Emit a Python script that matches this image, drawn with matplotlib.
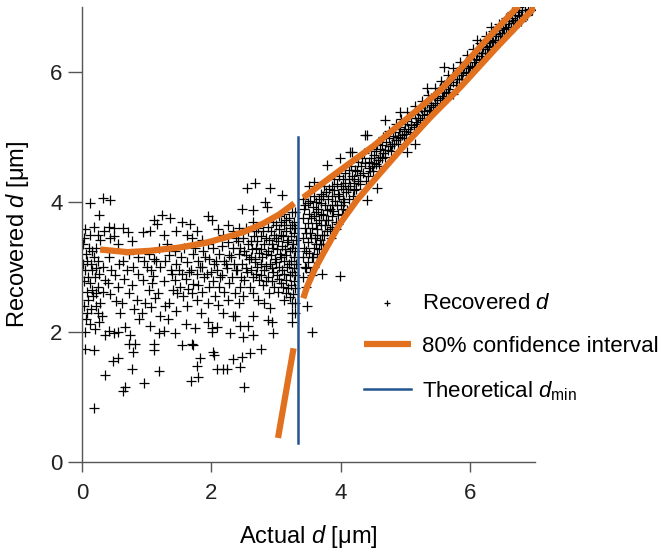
import matplotlib
matplotlib.use("Agg")
import matplotlib.pyplot as plt

plt.rcParams['font.family'] = ['Liberation Sans', 'DejaVu Sans']
plt.rcParams['mathtext.fontset'] = 'custom'
plt.rcParams['mathtext.rm'] = 'Liberation Sans'
plt.rcParams['mathtext.it'] = 'Liberation Sans:italic'

# recovered d below d_min (actual d, recovered d)
pts_left = [
    (0.05, 3.58), (0.03, 3.45), (0.06, 3.2), (0.04, 2.95), (0.07, 2.62), (0.03, 2.4), (0.06, 2.2), (0.04, 2.0), (0.05, 1.74),
    (0.02, 3.35), (0.02, 3.05), (0.03, 2.78), (0.08, 3.1), (0.09, 2.85), (0.08, 2.3),
    (0.12, 3.98), (0.13, 3.5), (0.11, 3.3), (0.14, 3.05), (0.12, 2.75), (0.1, 2.5), (0.14, 2.35), (0.12, 2.12),
    (0.15, 3.25), (0.16, 2.95), (0.15, 2.65),
    (0.19, 3.62), (0.18, 3.15), (0.2, 2.85), (0.17, 2.55), (0.2, 2.05), (0.19, 1.72), (0.18, 0.83),
    (0.22, 3.3), (0.22, 2.98), (0.21, 2.6), (0.22, 2.4),
    (0.26, 3.8), (0.24, 3.5), (0.28, 3.42), (0.25, 3.1), (0.27, 2.9), (0.24, 2.7), (0.28, 2.45), (0.25, 2.3), (0.26, 2.15),
    (0.33, 4.06), (0.34, 3.55), (0.32, 3.0), (0.35, 2.8), (0.33, 2.62), (0.31, 2.25), (0.35, 1.95),
    (0.43, 4.03), (0.41, 3.62), (0.44, 3.45), (0.42, 3.15), (0.45, 2.95), (0.4, 2.75), (0.44, 2.58), (0.42, 2.02), (0.36, 1.34),
    (0.5, 3.48), (0.49, 3.6), (0.51, 2.88), (0.52, 2.48), (0.49, 1.98), (0.48, 1.56),
    (0.56, 3.35), (0.57, 3.05), (0.55, 2.7), (0.58, 2.3), (0.56, 2.0), (0.56, 1.6),
    (0.64, 3.6), (0.63, 3.1), (0.65, 2.82), (0.62, 2.45), (0.66, 2.08), (0.64, 1.1), (0.66, 1.15),
    (0.71, 3.54), (0.73, 3.2), (0.7, 2.95), (0.72, 2.6), (0.74, 1.95), (0.72, 1.82),
    (0.78, 3.4), (0.79, 3.0), (0.77, 2.72), (0.8, 2.35), (0.79, 1.7), (0.77, 1.43), (0.82, 1.82),
    (0.86, 3.15), (0.87, 2.9), (0.85, 2.5), (0.88, 2.2),
    (0.94, 3.54), (0.96, 3.1), (0.95, 2.8), (0.97, 2.45), (0.93, 2.3), (0.96, 1.22),
    (1.0, 3.0), (1.08, 2.75),
    (1.05, 3.55), (1.03, 3.2), (1.06, 2.95), (1.04, 2.65), (1.07, 2.38), (1.05, 2.1),
    (1.11, 3.72), (1.12, 3.12), (1.1, 2.86), (1.13, 2.52), (1.11, 1.82), (1.11, 1.72),
    (1.16, 3.67), (1.19, 3.3), (1.2, 3.0), (1.18, 2.6), (1.21, 2.25), (1.19, 1.98), (1.19, 1.4), (1.15, 3.1),
    (1.23, 3.8), (1.27, 3.5), (1.28, 3.1), (1.26, 2.78), (1.29, 2.4), (1.27, 2.02),
    (1.36, 3.75), (1.34, 3.18), (1.37, 2.95), (1.35, 2.45), (1.33, 2.2), (1.31, 3.35), (1.39, 2.9), (1.41, 2.65),
    (1.45, 3.55), (1.44, 3.25), (1.46, 3.05), (1.43, 2.8), (1.47, 2.6), (1.45, 2.32), (1.44, 1.98), (1.5, 2.95),
    (1.54, 3.7), (1.53, 3.15), (1.55, 2.9), (1.52, 2.7), (1.56, 2.55), (1.54, 1.8), (1.58, 3.3),
    (1.62, 3.5), (1.63, 3.08), (1.61, 2.82), (1.64, 2.66), (1.62, 2.4), (1.6, 2.12), (1.66, 2.92),
    (1.67, 3.67), (1.7, 3.45), (1.71, 3.2), (1.69, 2.95), (1.72, 2.74), (1.7, 2.6), (1.7, 1.82), (1.69, 1.24), (1.72, 1.8),
    (1.78, 3.55), (1.79, 3.1), (1.77, 2.9), (1.8, 2.72), (1.78, 2.5), (1.75, 2.06), (1.78, 1.47), (1.8, 1.31), (1.74, 3.3),
    (1.86, 3.42), (1.87, 3.25), (1.85, 3.0), (1.88, 2.85), (1.86, 2.62), (1.84, 2.3), (1.83, 1.6), (1.82, 3.0),
    (1.95, 3.78), (1.94, 3.35), (1.96, 3.12), (1.93, 2.9), (1.97, 2.7), (1.95, 2.45), (1.94, 2.15), (1.9, 3.15), (1.99, 2.92),
    (2.01, 3.72), (2.03, 3.3), (2.04, 3.05), (2.02, 2.78), (2.05, 2.55), (2.01, 2.0), (2.01, 2.06), (2.03, 1.7), (2.04, 1.65),
    (2.1, 3.58), (2.11, 3.2), (2.09, 2.95), (2.12, 2.7), (2.1, 2.42), (2.08, 2.08), (2.08, 1.43), (2.07, 3.1), (2.14, 2.85),
    (2.18, 3.5), (2.17, 3.32), (2.19, 3.1), (2.16, 2.88), (2.2, 2.62), (2.18, 2.3), (2.18, 1.43), (2.22, 3.05),
    (2.26, 3.65), (2.25, 3.38), (2.27, 3.18), (2.24, 2.98), (2.28, 2.75), (2.26, 2.5), (2.24, 1.43), (2.3, 3.15),
    (2.34, 3.55), (2.33, 3.3), (2.35, 3.05), (2.32, 2.85), (2.36, 2.6), (2.34, 2.25), (2.37, 2.25), (2.29, 1.98), (2.34, 1.58),
    (2.38, 2.95), (2.38, 3.45),
    (2.42, 3.6), (2.41, 3.4), (2.43, 3.2), (2.4, 2.95), (2.44, 2.7), (2.42, 2.45), (2.45, 2.1), (2.45, 1.46), (2.44, 3.3), (2.46, 2.85),
    (2.47, 3.9), (2.49, 3.45), (2.5, 3.25), (2.48, 3.05), (2.51, 2.8), (2.49, 2.55), (2.49, 1.93), (2.47, 1.62), (2.51, 1.15),
    (2.53, 3.6), (2.54, 3.18), (2.53, 2.98),
    (2.55, 4.21), (2.57, 3.55), (2.56, 3.35), (2.58, 3.12), (2.55, 2.92), (2.59, 2.7), (2.57, 2.1),
    (2.61, 3.4), (2.61, 3.15), (2.62, 2.95),
    (2.65, 3.88), (2.64, 3.7), (2.66, 3.48), (2.63, 3.28), (2.67, 3.08), (2.65, 2.85), (2.64, 2.6), (2.65, 2.25), (2.65, 1.95), (2.6, 1.68),
    (2.69, 3.55), (2.69, 3.3), (2.68, 3.12), (2.69, 2.9),
    (2.68, 4.29), (2.72, 3.6), (2.71, 3.4), (2.73, 3.22), (2.7, 3.0), (2.74, 2.8), (2.72, 2.5), (2.76, 1.74),
    (2.76, 3.48), (2.77, 3.28), (2.76, 3.05), (2.77, 2.88),
    (2.83, 4.0), (2.86, 3.93), (2.8, 3.55), (2.81, 3.35), (2.79, 3.15), (2.82, 2.95), (2.8, 2.72), (2.81, 2.45),
    (2.84, 3.45), (2.85, 3.2), (2.84, 3.02), (2.85, 2.78),
    (2.91, 4.21), (2.88, 3.62), (2.89, 3.42), (2.87, 3.25), (2.9, 3.05), (2.88, 2.85), (2.89, 2.6), (2.88, 2.18), (2.9, 2.37), (2.93, 2.16),
    (2.92, 3.55), (2.93, 3.35), (2.92, 3.18), (2.93, 2.98), (2.94, 2.78),
    (2.96, 3.7), (2.97, 3.5), (2.95, 3.3), (2.98, 3.12), (2.96, 2.92), (2.97, 2.7), (2.96, 1.98),
    (3.0, 3.65), (3.0, 3.45), (3.01, 3.28), (3.0, 3.08), (3.01, 2.88),
    (3.09, 4.11), (3.04, 3.78), (3.05, 3.58), (3.03, 3.4), (3.06, 3.2), (3.04, 3.0), (3.05, 2.82), (3.03, 2.62),
    (3.08, 3.7), (3.08, 3.5), (3.09, 3.32), (3.08, 3.15), (3.09, 2.95), (3.08, 2.75),
    (3.12, 3.82), (3.13, 3.65), (3.11, 3.48), (3.14, 3.28), (3.12, 3.1), (3.13, 2.9), (3.11, 2.7), (3.12, 2.5),
    (3.16, 3.72), (3.16, 3.55), (3.17, 3.38), (3.16, 3.18), (3.17, 3.0), (3.16, 2.8), (3.16, 2.6),
    (3.2, 3.75), (3.21, 3.6), (3.19, 3.42), (3.22, 3.25), (3.2, 3.05), (3.21, 2.88), (3.19, 2.68), (3.22, 2.54), (3.24, 2.44), (3.25, 2.3), (3.24, 2.15),
    (3.24, 3.85), (3.24, 3.65), (3.23, 3.48), (3.24, 3.3), (3.23, 3.1), (3.24, 2.92), (3.23, 2.72),
    (3.27, 3.7), (3.28, 3.52), (3.26, 3.35), (3.28, 3.15), (3.27, 2.98), (3.28, 2.78), (3.26, 2.58),
    (3.3, 3.85), (3.3, 3.6), (3.31, 3.42), (3.3, 3.25), (3.31, 3.05), (3.3, 2.88), (3.3, 2.68), (3.3, 2.45), (3.3, 2.3),
]

# recovered d above d_min, wedge just right of d_min
pts_right = [
    (3.42, 4.05), (3.43, 3.9), (3.41, 3.75), (3.44, 3.6), (3.42, 3.45), (3.43, 3.3), (3.41, 3.15), (3.44, 3.0), (3.42, 2.85), (3.46, 2.7), (3.48, 2.4),
    (3.45, 3.95), (3.46, 3.52), (3.47, 3.25), (3.47, 2.98),
    (3.5, 3.98), (3.51, 3.82), (3.49, 3.68), (3.52, 3.52), (3.5, 3.38), (3.51, 3.22), (3.49, 3.08), (3.52, 2.92), (3.55, 2.88),
    (3.53, 4.02), (3.54, 3.75), (3.54, 3.45), (3.55, 3.15), (3.51, 4.25), (3.58, 4.31),
    (3.58, 4.1), (3.57, 3.92), (3.59, 3.78), (3.56, 3.6), (3.6, 3.45), (3.58, 3.3), (3.57, 3.15), (3.59, 3.0), (3.55, 2.0),
    (3.62, 4.0), (3.62, 3.85), (3.61, 3.68), (3.63, 3.5), (3.62, 3.35), (3.63, 3.2),
    (3.66, 4.05), (3.65, 3.9), (3.67, 3.72), (3.64, 3.58), (3.68, 3.42), (3.66, 3.28), (3.71, 2.9),
    (3.69, 4.12), (3.7, 3.98), (3.7, 3.82), (3.69, 3.65), (3.71, 3.5), (3.7, 3.35),
    (3.74, 4.25), (3.73, 4.1), (3.75, 3.95), (3.72, 3.8), (3.76, 3.65), (3.74, 3.5), (3.73, 3.35),
    (3.77, 4.15), (3.78, 3.88), (3.77, 3.72), (3.78, 3.55),
    (3.79, 4.57), (3.82, 4.2), (3.81, 4.05), (3.83, 3.9), (3.8, 3.72), (3.84, 3.58), (3.85, 3.45),
    (3.86, 4.25), (3.86, 4.1), (3.87, 3.95), (3.86, 3.78), (3.87, 3.62),
    (3.9, 4.35), (3.89, 4.18), (3.91, 4.02), (3.88, 3.86), (3.92, 3.7), (3.93, 3.58),
    (3.94, 4.28), (3.95, 4.12), (3.94, 3.96), (3.95, 3.82), (3.95, 3.66),
    (3.99, 4.68), (3.98, 4.4), (4.0, 4.25), (3.97, 4.1), (4.01, 3.95), (4.02, 3.8), (3.99, 2.87),
    (4.03, 4.35), (4.03, 4.2), (4.04, 4.05), (4.04, 3.9),
    (4.07, 4.45), (4.06, 4.3), (4.08, 4.15), (4.05, 4.0), (4.09, 3.88),
    (4.12, 4.5), (4.12, 4.35), (4.11, 4.2), (4.12, 4.05), (4.15, 4.77),
    (4.17, 4.77), (4.16, 4.55), (4.18, 4.4), (4.15, 4.25), (4.19, 4.1), (4.2, 4.3), (4.21, 4.18),
]

# recovered d in the narrow band towards large d
pts_band = [
    (4.26, 4.62), (4.25, 4.48), (4.27, 4.33), (4.24, 4.2),
    (4.21, 4.35), (4.22, 4.5), (4.29, 4.28), (4.3, 4.42), (4.31, 4.55), (4.33, 4.68),
    (4.38, 5.03), (4.41, 5.03), (4.36, 4.75), (4.37, 4.6), (4.35, 4.45), (4.39, 4.32), (4.41, 4.03),
    (4.42, 4.4), (4.43, 4.52), (4.44, 4.62), (4.5, 4.48), (4.51, 4.6), (4.52, 4.72),
    (4.47, 4.82), (4.46, 4.68), (4.48, 4.55), (4.45, 4.48),
    (4.56, 4.9), (4.55, 4.78), (4.57, 4.65), (4.54, 4.58), (4.56, 4.21), (4.59, 4.55), (4.6, 4.7), (4.61, 4.82),
    (4.69, 5.26), (4.65, 5.0), (4.64, 4.88), (4.66, 4.75), (4.63, 4.68), (4.68, 4.7), (4.69, 4.8), (4.7, 4.92),
    (4.75, 5.1), (4.74, 4.98), (4.76, 4.86), (4.73, 4.8), (4.78, 4.78), (4.79, 4.9), (4.8, 5.02),
    (4.85, 5.2), (4.84, 5.08), (4.86, 4.96), (4.83, 4.9), (4.88, 4.9), (4.89, 5.0), (4.9, 5.12),
    (4.92, 5.39), (4.93, 5.28), (4.91, 5.16), (4.94, 5.04), (4.92, 4.98), (4.97, 4.98), (4.98, 5.1), (4.99, 5.2),
    (5.03, 5.38), (5.02, 5.25), (5.04, 5.12), (5.01, 5.05), (5.03, 4.77), (5.07, 5.08), (5.08, 5.18), (5.09, 5.3),
    (5.15, 5.48), (5.14, 5.36), (5.16, 5.24), (5.13, 5.16), (5.15, 4.9), (5.18, 5.2), (5.19, 5.3), (5.2, 5.4),
    (5.25, 5.56), (5.24, 5.45), (5.26, 5.34), (5.23, 5.27), (5.28, 5.3), (5.29, 5.4), (5.3, 5.5),
    (5.34, 5.75), (5.35, 5.65), (5.33, 5.53), (5.36, 5.42), (5.34, 5.36), (5.38, 5.4), (5.39, 5.5), (5.4, 5.6),
    (5.45, 5.76), (5.44, 5.64), (5.46, 5.52), (5.43, 5.46), (5.48, 5.5), (5.49, 5.6), (5.5, 5.7),
    (5.55, 5.86), (5.54, 5.75), (5.56, 5.64), (5.53, 5.57), (5.59, 6.08), (5.58, 5.6), (5.59, 5.7), (5.6, 5.8),
    (5.65, 5.96), (5.64, 5.85), (5.66, 5.74), (5.63, 5.68), (5.68, 5.7), (5.69, 5.8), (5.7, 5.9),
    (5.74, 6.06), (5.75, 5.95), (5.73, 5.85), (5.74, 5.67), (5.78, 5.8), (5.79, 5.9), (5.8, 6.0),
    (5.85, 6.16), (5.84, 6.06), (5.86, 5.96), (5.83, 5.89), (5.88, 5.9), (5.89, 6.0), (5.9, 6.1),
    (5.95, 6.26), (5.94, 6.16), (5.96, 6.06), (5.93, 5.99), (5.98, 6.0), (5.99, 6.1), (6.0, 6.2),
    (6.05, 6.36), (6.04, 6.26), (6.06, 6.16), (6.03, 6.08), (6.11, 6.49), (6.08, 6.1), (6.09, 6.2), (6.1, 6.3),
    (6.15, 6.45), (6.14, 6.35), (6.16, 6.25), (6.13, 6.18), (6.18, 6.2), (6.19, 6.3), (6.2, 6.38),
    (6.25, 6.55), (6.24, 6.45), (6.26, 6.36), (6.23, 6.29), (6.32, 6.7), (6.28, 6.3), (6.29, 6.4), (6.3, 6.48),
    (6.35, 6.64), (6.34, 6.55), (6.36, 6.46), (6.33, 6.39), (6.38, 6.4), (6.39, 6.5), (6.4, 6.58),
    (6.45, 6.74), (6.44, 6.65), (6.46, 6.56), (6.43, 6.5), (6.48, 6.5), (6.49, 6.6), (6.5, 6.68),
    (6.55, 6.83), (6.54, 6.74), (6.56, 6.66), (6.53, 6.6), (6.58, 6.6), (6.59, 6.7), (6.6, 6.78),
    (6.65, 6.92), (6.64, 6.84), (6.66, 6.76), (6.63, 6.7), (6.68, 6.7), (6.69, 6.8), (6.7, 6.88),
    (6.75, 7.0), (6.74, 6.93), (6.76, 6.86), (6.73, 6.8), (6.78, 6.78), (6.79, 6.88), (6.8, 6.95),
    (6.85, 6.96), (6.84, 6.88), (6.92, 6.97), (6.88, 6.88), (6.89, 6.95), (6.95, 6.95),
]

# 80% confidence interval curves
ci_upper_left_x = [0.28, 0.7, 1.05, 1.5, 1.9, 2.2, 2.5, 2.8, 3.05, 3.28]
ci_upper_left_y = [3.27, 3.23, 3.25, 3.3, 3.37, 3.45, 3.54, 3.67, 3.81, 3.98]
ci_lower_left_x = [3.03, 3.27]
ci_lower_left_y = [0.37, 1.75]
ci_upper_right_x = [3.42, 3.99, 4.5, 5.03, 5.54, 5.85, 6.3, 6.75]
ci_upper_right_y = [4.07, 4.49, 4.86, 5.29, 5.72, 6.05, 6.55, 7.02]
ci_lower_right_x = [3.42, 3.48, 3.6, 3.73, 3.99, 4.25, 4.56, 4.92, 5.39, 5.85, 6.4, 7.0]
ci_lower_right_y = [2.52, 2.7, 2.97, 3.21, 3.67, 4.03, 4.39, 4.8, 5.31, 5.77, 6.37, 7.0]

d_min = 3.34
d_min_range = [0.3, 5.0]

orange = '#E2711F'
blue = '#23558F'

fig = plt.figure(figsize=(6.65, 5.5), dpi=100)
ax = fig.add_axes([0.1233, 0.16, 0.681, 0.827])

pts = pts_left + pts_right + pts_band
xs = [p[0] for p in pts]
ys = [p[1] for p in pts]
ax.scatter(xs, ys, marker='+', s=60, c='black', linewidths=0.9, label='Recovered $d$', zorder=2)

ax.plot(ci_upper_left_x, ci_upper_left_y, color=orange, lw=4.5, solid_capstyle='butt', zorder=3,
        label='80% confidence interval')
ax.plot(ci_lower_left_x, ci_lower_left_y, color=orange, lw=4.5, solid_capstyle='butt', zorder=3)
ax.plot(ci_upper_right_x, ci_upper_right_y, color=orange, lw=4.5, solid_capstyle='butt', zorder=3)
ax.plot(ci_lower_right_x, ci_lower_right_y, color=orange, lw=4.5, solid_capstyle='butt', zorder=3)
ax.plot([d_min, d_min], d_min_range, color=blue, lw=1.8, zorder=4, label=r'Theoretical $d_{\mathrm{min}}$')

ax.set_xlim(0, 7)
ax.set_ylim(0, 7)
ax.set_xticks([0, 2, 4, 6])
ax.set_yticks([0, 2, 4, 6])
for s in ['top', 'right']:
    ax.spines[s].set_visible(False)
for s in ['left', 'bottom']:
    ax.spines[s].set_color('#555555')
    ax.spines[s].set_linewidth(1.0)
ax.tick_params(axis='both', direction='out', colors='#555555', labelcolor='#222222', labelsize=16, width=1.0)
ax.tick_params(axis='y', length=10, pad=4)
ax.tick_params(axis='x', length=7, pad=8)

ax.set_xlabel('Actual $d$ [μm]', fontsize=17, labelpad=14)
ax.set_ylabel('Recovered $d$ [μm]', fontsize=17, labelpad=14)

leg = ax.legend(loc='upper left', bbox_to_anchor=(0.6225, 0.372), frameon=False, fontsize=16,
                handlelength=2.1, handletextpad=0.5, labelspacing=1.0, borderpad=0, borderaxespad=0,
                markerscale=0.6)

fig.savefig('out.png', dpi=100)
